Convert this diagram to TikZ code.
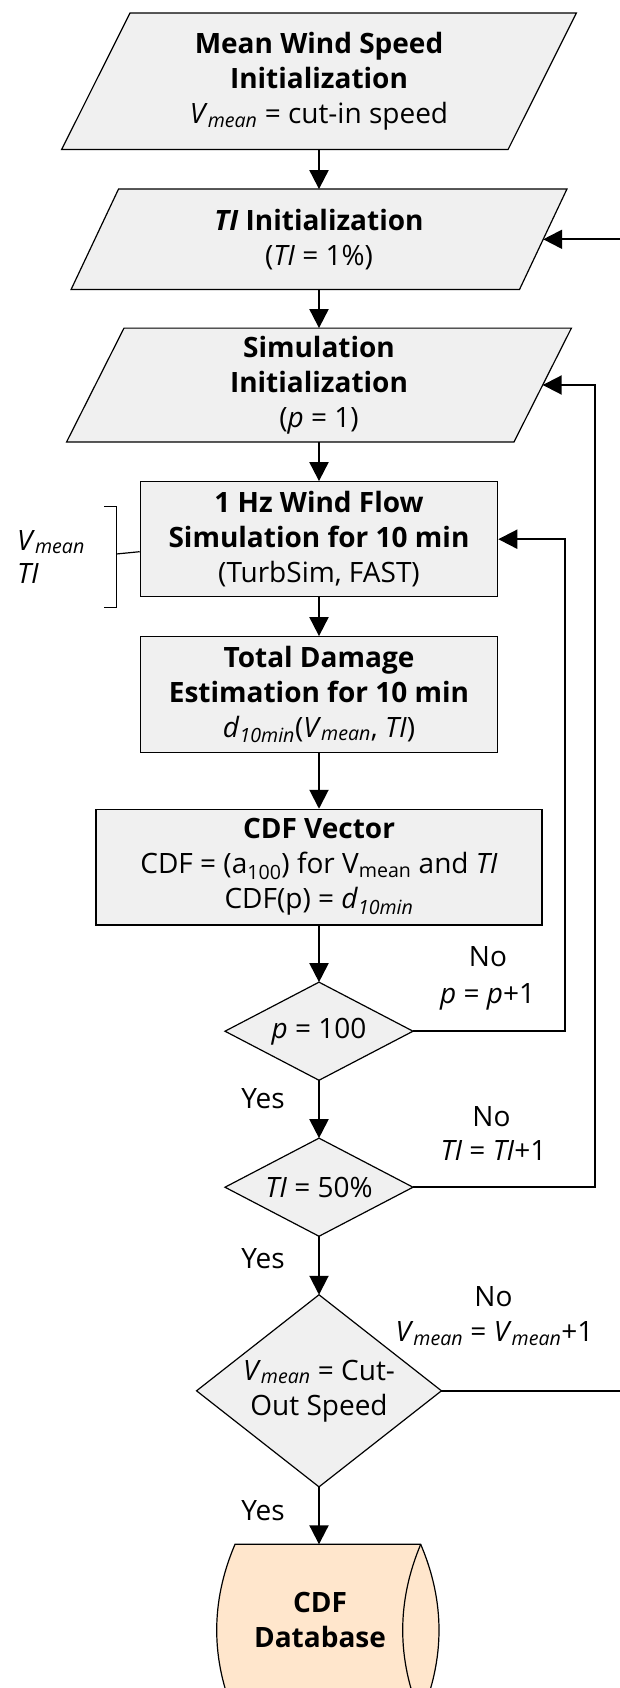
\documentclass[tikz,border=0pt]{standalone}
\usepackage{fontspec}
\setmainfont{Open Sans}
\usetikzlibrary{arrows.meta,backgrounds,calc}
\definecolor{boxfill}{HTML}{F0F0F0}
\definecolor{dbfill}{HTML}{FFE6CC}
\newcommand{\Vm}{\textit{V}\textsubscript{\textit{mean}}}
\newcommand{\dten}{\textit{d}\textsubscript{\textit{10min}}}
\tikzset{
  every node/.style={font=\fontsize{28}{35}\selectfont, inner sep=0pt},
  ghost/.style={rectangle, align=center},
  frame/.style={rectangle, draw=black, line width=1.2pt, fill=boxfill, align=center},
  shapeline/.style={draw=black, line width=1.2pt, fill=boxfill},
  dbline/.style={draw=black, line width=1.2pt, fill=dbfill},
  arr/.style={line width=2pt, -{Triangle[length=19pt,width=19pt]}},
  conn/.style={line width=2pt},
  lbl/.style={anchor=base},
}
\begin{document}
\begin{tikzpicture}[x=1pt,y=-1pt]
\useasboundingbox (0,0) rectangle (619,1688);

% process nodes
\node[ghost, minimum width=446pt, minimum height=136pt] (n1) at (319,81.3)
  {\textbf{Mean Wind Speed}\\\textbf{Initialization}\\\Vm{} = cut-in speed};
\node[ghost, minimum width=448pt, minimum height=100pt] (n2) at (319,239.3)
  {\textbf{\textit{TI} Initialization}\\(\textit{TI} = 1\%)};
\node[ghost, minimum width=447pt, minimum height=113.4pt] (n3) at (319,385)
  {\textbf{Simulation}\\\textbf{Initialization}\\(\textit{p} = 1)};
\node[frame, minimum width=357.4pt, minimum height=115pt] (n4) at (319,539.2)
  {\textbf{1 Hz Wind Flow}\\\textbf{Simulation for 10 min}\\(TurbSim, FAST)};
\node[frame, minimum width=357.4pt, minimum height=115.6pt] (n5) at (319,694.5)
  {\textbf{Total Damage}\\\textbf{Estimation for 10 min}\\\dten(\Vm, \textit{TI})};
\node[frame, minimum width=446pt, minimum height=115.7pt] (n6) at (319,867.2)
  {\textbf{CDF Vector}\\CDF = (a\textsubscript{100}) for V\textsubscript{mean} and \textit{TI}\\CDF(p) = \dten};
\node[ghost, minimum width=187.6pt, minimum height=97.7pt] (d1) at (319,1031.2)
  {\textit{p} = 100};
\node[ghost, minimum width=187.6pt, minimum height=97.7pt] (d2) at (319,1187.2)
  {\textit{TI} = 50\%};
\node[ghost, minimum width=244.5pt, minimum height=191.7pt] (d3) at (319,1390.8)
  {\Vm{} = Cut-\\Out Speed};
\node[ghost] (db) at (320,1620) {\textbf{CDF}\\\textbf{Database}};
\coordinate (dbtop) at (319,1544.3);

\begin{scope}[on background layer]
  \path[shapeline] ([xshift=34.15pt]n1.north west) -- ([xshift=34.15pt]n1.north east)
    -- ([xshift=-34.15pt]n1.south east) -- ([xshift=-34.15pt]n1.south west) -- cycle;
  \path[shapeline] ([xshift=23.7pt]n2.north west) -- ([xshift=23.7pt]n2.north east)
    -- ([xshift=-23.7pt]n2.south east) -- ([xshift=-23.7pt]n2.south west) -- cycle;
  \path[shapeline] ([xshift=28.7pt]n3.north west) -- ([xshift=28.7pt]n3.north east)
    -- ([xshift=-28.7pt]n3.south east) -- ([xshift=-28.7pt]n3.south west) -- cycle;
  \path[shapeline] (d1.north) -- (d1.east) -- (d1.south) -- (d1.west) -- cycle;
  \path[shapeline] (d2.north) -- (d2.east) -- (d2.south) -- (d2.west) -- cycle;
  \path[shapeline] (d3.north) -- (d3.east) -- (d3.south) -- (d3.west) -- cycle;
  \path[dbline] (235,1544.3) -- (420.7,1544.3)
    .. controls (445.1,1601.5) and (445.1,1658.8) .. (420.7,1716)
    -- (235,1716)
    .. controls (210.6,1658.8) and (210.6,1601.5) .. (235,1544.3) -- cycle;
  \draw[line width=1.2pt] (420.7,1544.3)
    .. controls (396.7,1601.5) and (396.7,1658.8) .. (420.7,1716);
\end{scope}

% main flow
\draw[arr] (n1.south) -- (n2.north);
\draw[arr] (n2.south) -- (n3.north);
\draw[arr] (n3.south) -- (n4.north);
\draw[arr] (n4.south) -- (n5.north);
\draw[arr] (n5.south) -- (n6.north);
\draw[arr] (n6.south) -- (d1.north);
\draw[arr] (d1.south) -- (d2.north);
\draw[arr] (d2.south) -- (d3.north);
\draw[arr] (d3.south) -- (dbtop);

% loops
\coordinate (L1) at (564.5,0);
\coordinate (L2) at (595,0);
\coordinate (L3) at (622,0);
\draw[arr] (d1.east) -- (d1.east -| L1) -- (L1 |- n4.east) -- (n4.east);
\draw[arr] (d2.east) -- (d2.east -| L2) -- (L2 |- n3.east) -- (n3.east);
\draw[arr] (d3.east) -- (d3.east -| L3) -- (L3 |- n2.east) -- (n2.east);

% labels
\node[lbl] (no1) at (488,966.7) {No};
\node[lbl] (inc1) at (487.6,1003.3) {\textit{p} = \textit{p}+1};
\node[lbl] (yes1) at (263,1108.3) {Yes};
\node[lbl] (no2) at (491.5,1126) {No};
\node[lbl] (inc2) at (493.5,1160) {\textit{TI} = \textit{TI}+1};
\node[lbl] (yes2) at (263,1268.3) {Yes};
\node[lbl] (no3) at (493.5,1306) {No};
\node[lbl] (inc3) at (494.5,1341.7) {\Vm{} = \Vm+1};
\node[lbl] (yes3) at (263,1520) {Yes};

% bracket with inputs
\draw[line width=1.2pt] (104.3,506.7) -- (116.3,506.7) -- (116.3,607.7) -- (104.3,607.7);
\coordinate (brk) at (116.3,554);
\draw[line width=1.2pt] (brk) -- ([yshift=-12.5pt]n4.west);
\node[anchor=base west] (vin) at (17,550) {\Vm};
\node[anchor=base west] (tiin) at (17,583.3) {\textit{TI}};
\end{tikzpicture}
\end{document}
